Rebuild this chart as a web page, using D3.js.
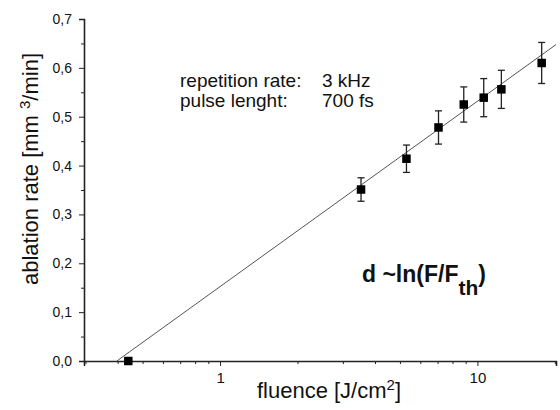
<!DOCTYPE html>
<html><head><meta charset="utf-8">
<script src="https://cdn.jsdelivr.net/npm/d3@7"></script>
<style>body{margin:0;background:#fff}svg{display:block}text{font-family:"Liberation Sans",Arial,sans-serif;fill:#111}</style>
</head><body>
<svg id="c" width="560" height="410"></svg>
<script>
const fluence = [0.44, 3.53, 5.30, 7.06, 8.85, 10.58, 12.39, 17.77];
const rate    = [0.0, 0.351, 0.414, 0.478, 0.525, 0.539, 0.556, 0.610];
const rateErr = [0, 0.024, 0.028, 0.034, 0.036, 0.039, 0.039, 0.042];
const fitThreshold = 0.397;
const fitSlope = 0.3795; // per decade
const fitRange = [0.397, 20.2];
const yTicks = [0, 0.1, 0.2, 0.3, 0.4, 0.5, 0.6, 0.7];
const yMinor = [0.05, 0.15, 0.25, 0.35, 0.45, 0.55, 0.65];
const xTicks = [1, 10];
const xMinor = [0.3,0.4,0.5,0.6,0.7,0.8,0.9,2,3,4,5,6,7,8,9,20];

const svg = d3.select("#c");
const x = d3.scaleLog().domain([0.296, 20.2]).range([84, 556]);
const y = d3.scaleLinear().domain([0, 0.7]).range([361, 19]);
const fmt = d => d3.format(".1f")(d).replace(".", ",");

// axes
const yAxis = svg.append("g").attr("transform","translate(84,0)")
  .call(d3.axisLeft(y).tickValues(yTicks).tickFormat(fmt).tickSize(5).tickPadding(7));
yAxis.selectAll("text").style("font-size","14px");
svg.append("g").attr("transform","translate(84,0)")
  .call(d3.axisLeft(y).tickValues(yMinor).tickFormat("").tickSize(3)).select(".domain").remove();

const xAxis = svg.append("g").attr("transform","translate(0,361)")
  .call(d3.axisBottom(x).tickValues(xTicks).tickFormat(d3.format("d")).tickSize(5).tickPadding(6));
xAxis.selectAll("text").style("font-size","15px");
svg.append("g").attr("transform","translate(0,361)")
  .call(d3.axisBottom(x).tickValues(xMinor).tickFormat("").tickSize(3)).select(".domain").remove();
svg.selectAll(".domain").attr("stroke","#222").attr("stroke-width",1.6);
svg.selectAll(".tick line").attr("stroke","#222");

// fit line
const fitF = d => fitSlope * Math.log10(d / fitThreshold);
svg.append("line")
  .attr("x1", x(fitRange[0])).attr("y1", y(fitF(fitRange[0])))
  .attr("x2", x(fitRange[1])).attr("y2", y(fitF(fitRange[1])))
  .attr("stroke","#555").attr("stroke-width",1);

// error bars
const pts = fluence.map((f,i)=>({f, r:rate[i], e:rateErr[i]}));
const eb = svg.append("g").attr("stroke","#222").attr("stroke-width",1.3);
pts.filter(d=>d.e>0).forEach(d=>{
  eb.append("line").attr("x1",x(d.f)).attr("x2",x(d.f)).attr("y1",y(d.r-d.e)).attr("y2",y(d.r+d.e));
  [d.r-d.e, d.r+d.e].forEach(v=>eb.append("line").attr("x1",x(d.f)-3.5).attr("x2",x(d.f)+3.5).attr("y1",y(v)).attr("y2",y(v)));
});
svg.append("g").selectAll("rect").data(pts).join("rect")
  .attr("x",d=>x(d.f)-4.25).attr("y",d=>y(d.r)-4.25).attr("width",8.5).attr("height",8.5).attr("fill","#000");

// labels
svg.append("text").attr("x",329).attr("y",398).attr("text-anchor","middle").style("font-size","22px")
  .html('fluence [J/cm<tspan dy="-8" font-size="15px">2</tspan><tspan dy="8">]</tspan>');
svg.append("text").attr("transform","translate(38,169) rotate(-90)").attr("text-anchor","middle").style("font-size","22px")
  .html('ablation rate [mm <tspan dy="-8" font-size="15px">3</tspan><tspan dy="8">/min]</tspan>');

svg.append("text").attr("x",180).attr("y",87).style("font-size","19px").text("repetition rate:");
svg.append("text").attr("x",322).attr("y",87).style("font-size","19px").text("3 kHz");
svg.append("text").attr("x",180).attr("y",107).style("font-size","19px").text("pulse lenght:");
svg.append("text").attr("x",322).attr("y",107).style("font-size","19px").text("700 fs");

svg.append("text").attr("x",362).attr("y",282).style("font-size","23px").style("font-weight","bold")
  .html('d ~ln(F/F<tspan dy="13" font-size="21px">th</tspan><tspan dy="-13">)</tspan>');
</script>
</body></html>
